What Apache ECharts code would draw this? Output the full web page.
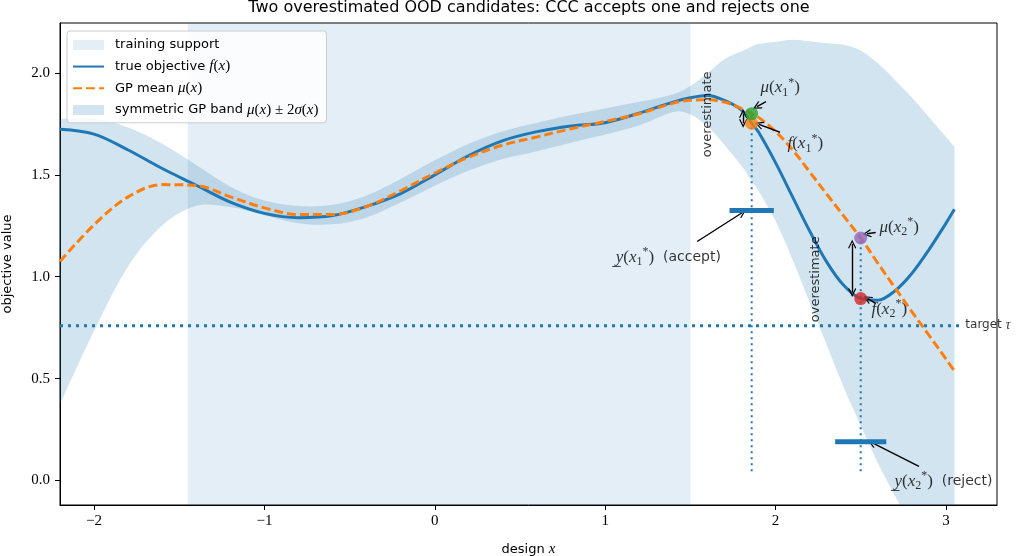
<!DOCTYPE html>
<html><head><meta charset="utf-8">
<script src="https://cdn.jsdelivr.net/npm/echarts@6/dist/echarts.min.js"></script>
<style>html,body{margin:0;padding:0;background:#fff}#c{width:1023px;height:556px}</style>
</head><body><div id="c"></div>
<script>
// ---------------- data ----------------
const xs = [-2.2,-2.0,-1.8,-1.6,-1.4,-1.2,-1.0,-0.8,-0.6,-0.4,-0.2,0.0,0.2,0.4,0.6,0.8,1.0,1.2,1.4,1.5,1.6,1.7,1.8,1.86,1.9,2.0,2.1,2.2,2.3,2.4,2.5,2.6,2.7,2.8,2.9,3.0,3.05];
const fTrue = [1.724,1.700,1.622,1.531,1.449,1.366,1.311,1.290,1.300,1.345,1.408,1.500,1.595,1.668,1.712,1.740,1.756,1.803,1.857,1.878,1.889,1.865,1.818,1.753,1.710,1.560,1.392,1.225,1.073,0.958,0.893,0.885,0.930,1.016,1.132,1.262,1.331];
const gpMean = [1.075,1.255,1.392,1.452,1.448,1.392,1.338,1.305,1.305,1.345,1.422,1.509,1.587,1.646,1.686,1.726,1.762,1.800,1.852,1.866,1.868,1.857,1.825,1.800,1.782,1.713,1.623,1.515,1.406,1.298,1.190,1.067,0.947,0.829,0.714,0.597,0.538];
const gpSigma = [0.35,0.26,0.17,0.10,0.05,0.025,0.018,0.021,0.024,0.027,0.029,0.031,0.033,0.034,0.035,0.034,0.032,0.029,0.022,0.035,0.065,0.105,0.14,0.165,0.18,0.22,0.27,0.32,0.37,0.42,0.46,0.49,0.51,0.525,0.535,0.545,0.55];
const xTicks = [-2,-1,0,1,2,3];
const yTicks = [0,0.5,1.0,1.5,2.0];
const trainSupport = [-1.45, 1.5];
const targetTau = 0.76;
const candX = [1.86, 2.5];
const candLB = [1.325, 0.19];
const lbHalfWidth = [0.13, 0.15];
const vlineBottom = 0.046;
// --------------------------------------

const idx = candX.map(x => xs.indexOf(x));
const candMu = idx.map(i => gpMean[i]);
const candF = idx.map(i => fTrue[i]);

const BLUE = '#1f77b4', ORANGE = '#ff7f0e';
const SANS = 'DejaVu Sans', SERIF = 'Liberation Serif';
const mathRich = {
  mi: {fontFamily: SERIF, fontStyle: 'italic', fontSize: 17, lineHeight: 22, color: '#000'},
  mr: {fontFamily: SERIF, fontSize: 17, lineHeight: 22, color: '#000'},
  sub: {fontFamily: SERIF, fontSize: 12, verticalAlign: 'bottom', color: '#000'},
  sup: {fontFamily: SERIF, fontSize: 12, verticalAlign: 'top', color: '#000'},
  sans: {fontFamily: SANS, fontSize: 14, lineHeight: 22, color: '#000'},
  sm: {fontFamily: SANS, fontSize: 12, lineHeight: 22, color: '#000'},
  tau: {fontFamily: SERIF, fontStyle: 'italic', fontSize: 14, lineHeight: 22, color: '#000'}
};
const mathLbl = (fn, k) => `{mi|${fn}}{mr|(}{mi|x}{sub|${k}}{sup|*}{mr|)}`;

const chevron = 'path://M5,0 L10,8.5 L9,9.5 L5,2.8 L1,9.5 L0,8.5 Z';

function smoothPath(pts, start) {
  let d = start ? `M${pts[0][0]},${pts[0][1]}` : `L${pts[0][0]},${pts[0][1]}`;
  for (let i = 0; i < pts.length - 1; i++) {
    const p0 = pts[i - 1] || pts[i], p1 = pts[i], p2 = pts[i + 1], p3 = pts[i + 2] || pts[i + 1];
    const c1 = [p1[0] + (p2[0] - p0[0]) / 6, p1[1] + (p2[1] - p0[1]) / 6];
    const c2 = [p2[0] - (p3[0] - p1[0]) / 6, p2[1] - (p3[1] - p1[1]) / 6];
    d += ` C${c1[0]},${c1[1]} ${c2[0]},${c2[1]} ${p2[0]},${p2[1]}`;
  }
  return d;
}

const nameTrain = 'training support';
const nameF = 'true objective f(x)';
const nameMu = 'GP mean μ(x)';
const nameBand = 'symmetric GP band μ(x) ± 2σ(x)';
const legendFmt = {
  [nameTrain]: 'training support',
  [nameF]: 'true objective {mi|f}{mr|(}{mi|x}{mr|)}',
  [nameMu]: 'GP mean {mi|μ}{mr|(}{mi|x}{mr|)}',
  [nameBand]: 'symmetric GP band {mi|μ}{mr|(}{mi|x}{mr|) ± 2}{mi|σ}{mr|(}{mi|x}{mr|)}'
};

// annotation texts, anchored relative to the candidates
const [x1, x2] = candX;
const texts = [
  {p: [x1 + 0.055, candMu[0] + 0.126], t: mathLbl('μ', 1)},
  {p: [x1 + 0.213, candF[0] - 0.103], t: mathLbl('f', 1)},
  {p: [x2 + 0.113, candMu[1] + 0.05], t: mathLbl('μ', 2)},
  {p: [x2 + 0.066, candF[1] - 0.055], t: mathLbl('f', 2)},
  {p: [x1 - 0.795, candLB[0] - 0.232], t: '{mi|y̲}{mr|(}{mi|x}{sub|1}{sup|*}{mr|)}{sans|  (accept)}'},
  {p: [x2 + 0.201, candLB[1] - 0.195], t: '{mi|y̲}{mr|(}{mi|x}{sub|2}{sup|*}{mr|)}{sans|  (reject)}'},
  {p: [3.117, targetTau], t: '{sm|target }{tau|τ}'},
  {p: [x1 - 0.256, 1.794], t: 'overestimate', rot: 90},
  {p: [x2 - 0.262, 0.985], t: 'overestimate', rot: 90}
];
const arrows = [
  [[x1 + 0.084, candMu[0] + 0.059], [x1 + 0.031, candMu[0] + 0.035]],
  [[x1 + 0.166, candF[0] - 0.044], [x1 + 0.043, candF[0] - 0.005]],
  [[x2 + 0.088, candMu[1] + 0.027], [x2 + 0.037, candMu[1] + 0.021]],
  [[x2 + 0.088, candF[1] - 0.024], [x2 + 0.040, candF[1] + 0.0]],
  [[x1 - 0.32, candLB[0] - 0.152], [x1 - 0.056, candLB[0] - 0.011]],
  [[x2 + 0.342, candLB[1] - 0.12], [x2 + 0.066, candLB[1] - 0.004]]
];
const dblArrows = [
  [[x1 - 0.05, candF[0]], [x1 - 0.05, candMu[0]]],
  [[x2 - 0.05, candF[1] + 0.03], [x2 - 0.05, candMu[1] - 0.03]]
];

const chart = echarts.init(document.getElementById('c'), null, {renderer: 'canvas'});

const series = [];
series.push({
  type: 'line', name: nameTrain, data: [], silent: true,
  markArea: {silent: true, itemStyle: {color: 'rgba(31,119,180,0.12)'},
    data: [[{xAxis: trainSupport[0]}, {xAxis: trainSupport[1]}]]},
  z: 0
});
series.push({
  type: 'custom', name: nameBand, silent: true, z: 1,
  data: xs.map((x, i) => [x, gpMean[i] - 2 * gpSigma[i], gpMean[i] + 2 * gpSigma[i]]),
  encode: {x: 0, y: [1, 2]},
  renderItem: (params, api) => {
    if (params.dataIndex !== 0) return null;
    const up = xs.map((x, i) => api.coord([x, gpMean[i] + 2 * gpSigma[i]]));
    const lo = xs.map((x, i) => api.coord([x, gpMean[i] - 2 * gpSigma[i]])).reverse();
    const d = smoothPath(up, true) + ' ' + smoothPath(lo, false) + ' Z';
    const cs = params.coordSys;
    return {
      type: 'path', shape: {pathData: d},
      style: {fill: 'rgba(31,119,180,0.2)'},
      clipPath: {type: 'rect', shape: {x: cs.x, y: cs.y, width: cs.width, height: cs.height}}
    };
  }
});
series.push({
  type: 'line', name: nameF, data: xs.map((x, i) => [x, fTrue[i]]),
  symbol: 'none', showSymbol: false, smooth: 0.35, silent: true,
  lineStyle: {color: BLUE, width: 3}, itemStyle: {color: BLUE}, z: 3
});
series.push({
  type: 'line', name: nameMu, data: xs.map((x, i) => [x, gpMean[i]]),
  symbol: 'none', showSymbol: false, smooth: 0.35, silent: true,
  lineStyle: {color: ORANGE, width: 3, type: [9, 4]}, itemStyle: {color: ORANGE}, z: 4
});
series.push({
  type: 'line', name: 'target', data: [[-2.2, targetTau], [3.08, targetTau]],
  symbol: 'none', silent: true, lineStyle: {color: BLUE, width: 3, type: [3, 5]}, z: 2
});
candX.forEach((x, k) => {
  series.push({
    type: 'line', name: 'vline' + k, data: [[x, vlineBottom], [x, candMu[k]]],
    symbol: 'none', silent: true, lineStyle: {color: BLUE, width: 2, type: [2, 4]}, z: 2
  });
  series.push({
    type: 'line', name: 'lb' + k, data: [[x - lbHalfWidth[k], candLB[k]], [x + lbHalfWidth[k], candLB[k]]],
    symbol: 'none', silent: true, lineStyle: {color: BLUE, width: 5, cap: 'butt'}, z: 5
  });
});
series.push({
  type: 'scatter', name: 'points', symbolSize: 13, silent: true, z: 6,
  data: [
    {value: [x1, candF[0]], itemStyle: {color: ORANGE}},
    {value: [x1, candMu[0]], itemStyle: {color: '#2ca02c'}},
    {value: [x2, candMu[1]], itemStyle: {color: '#9467bd'}},
    {value: [x2, candF[1]], itemStyle: {color: '#d62728'}}
  ]
});
series.push({
  type: 'line', name: 'arrows', data: [], silent: true, z: 7,
  markLine: {
    silent: true, animation: false, symbolSize: [8, 9],
    lineStyle: {color: '#000', width: 1.4, type: 'solid'},
    label: {show: false},
    data: arrows.map(a => [{coord: a[0], symbol: 'none'}, {coord: a[1], symbol: chevron}])
      .concat(dblArrows.map(a => [{coord: a[0], symbol: chevron}, {coord: a[1], symbol: chevron}]))
  }
});
series.push({
  type: 'scatter', name: 'texts', symbolSize: 1, silent: true, z: 8,
  itemStyle: {color: 'rgba(0,0,0,0)'},
  data: texts.map(o => ({
    value: o.p,
    label: o.rot ? {show: true, formatter: o.t, position: [0, 0], rotate: o.rot, align: 'center', verticalAlign: 'middle',
        fontFamily: SANS, fontSize: 13, color: '#000'}
      : {show: true, formatter: o.t, position: [0, 0], align: 'left', verticalAlign: 'middle', rich: mathRich}
  }))
});

const hideSym = {color: 'rgba(0,0,0,0)', borderColor: 'rgba(0,0,0,0)', borderWidth: 0};
const tickFont = {fontFamily: SERIF, fontSize: 15, color: '#000'};
chart.setOption({
  animation: false,
  backgroundColor: '#fff',
  title: {
    text: 'Two overestimated OOD candidates: CCC accepts one and rejects one',
    left: 529, top: 0, textAlign: 'center', padding: 0,
    textStyle: {fontFamily: SANS, fontSize: 16, fontWeight: 'normal', color: '#000'}
  },
  grid: {left: 60, right: 26, top: 23, bottom: 51, containLabel: false, outerBoundsMode: 'none',
    show: true, borderColor: '#000', borderWidth: 1, backgroundColor: 'transparent'},
  legend: {
    orient: 'vertical', left: 67, top: 31, padding: [5, 8, 4, 5],
    itemWidth: 31, itemHeight: 10, itemGap: 4,
    backgroundColor: 'rgba(255,255,255,0.8)', borderColor: '#cccccc', borderWidth: 1, borderRadius: 3,
    selectedMode: false,
    textStyle: {fontFamily: SANS, fontSize: 13, color: '#000', lineHeight: 17.7, padding: [0, 0, 0, 6],
      rich: {
        mi: {fontFamily: SERIF, fontStyle: 'italic', fontSize: 15, lineHeight: 17.7},
        mr: {fontFamily: SERIF, fontSize: 15, lineHeight: 17.7}
      }},
    formatter: n => legendFmt[n] || n,
    data: [
      {name: nameTrain, icon: 'rect', itemStyle: {color: 'rgba(31,119,180,0.12)'}},
      {name: nameF, itemStyle: hideSym},
      {name: nameMu, itemStyle: hideSym},
      {name: nameBand, icon: 'rect', itemStyle: {color: 'rgba(31,119,180,0.2)'}}
    ]
  },
  xAxis: {
    type: 'value', min: -2.2, max: 3.3,
    name: 'design {i|x}', nameLocation: 'middle', nameGap: 37,
    nameTextStyle: {fontFamily: SANS, fontSize: 13, color: '#000',
      rich: {i: {fontFamily: SERIF, fontStyle: 'italic', fontSize: 15}}},
    axisLine: {show: true, onZero: false, lineStyle: {color: '#000', width: 1}},
    axisTick: {show: true, inside: false, length: 5, lineStyle: {color: '#000'}, customValues: xTicks},
    axisLabel: {show: true, margin: 9, ...tickFont, customValues: xTicks,
      formatter: v => (v < 0 ? '\u2212' + Math.abs(v) : String(v))},
    splitLine: {show: false}
  },
  yAxis: {
    type: 'value', min: -0.12, max: 2.245,
    name: 'objective value', nameLocation: 'middle', nameGap: 46, nameRotate: 90,
    nameTextStyle: {fontFamily: SANS, fontSize: 13, color: '#000'},
    axisLine: {show: true, onZero: false, lineStyle: {color: '#000', width: 1}},
    axisTick: {show: true, inside: false, length: 5, lineStyle: {color: '#000'}, customValues: yTicks},
    axisLabel: {show: true, margin: 10, ...tickFont, customValues: yTicks,
      formatter: v => v.toFixed(1)},
    splitLine: {show: false}
  },
  series: series
});
</script></body></html>
